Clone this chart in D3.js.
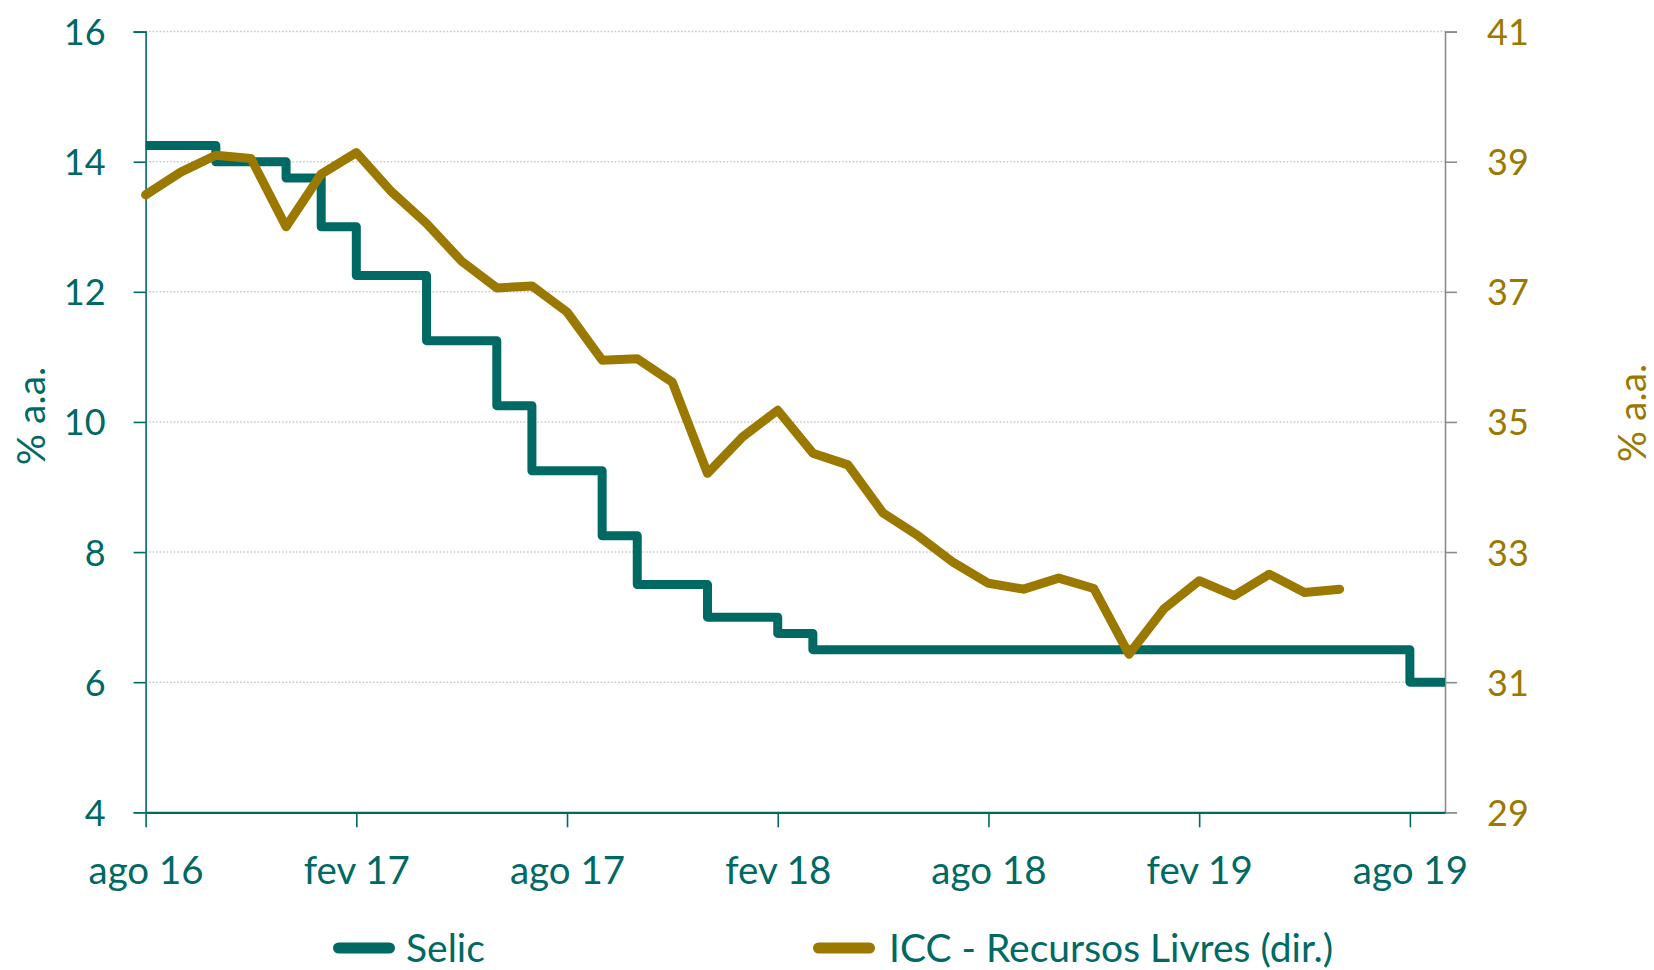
<!DOCTYPE html>
<html>
<head>
<meta charset="utf-8">
<script src="https://cdn.jsdelivr.net/npm/d3@7"></script>
<style>
  html, body { margin: 0; padding: 0; background: #fff; }
  svg { display: block; font-family: Lato, 'Open Sans', sans-serif; }
</style>
</head>
<body>
<div id="chart"></div>
<script>
// monthly, ago 16 .. set 19
const months = [
  'ago 16', 'set 16', 'out 16', 'nov 16', 'dez 16',
  'jan 17', 'fev 17', 'mar 17', 'abr 17', 'mai 17', 'jun 17', 'jul 17', 'ago 17', 'set 17', 'out 17', 'nov 17', 'dez 17',
  'jan 18', 'fev 18', 'mar 18', 'abr 18', 'mai 18', 'jun 18', 'jul 18', 'ago 18', 'set 18', 'out 18', 'nov 18', 'dez 18',
  'jan 19', 'fev 19', 'mar 19', 'abr 19', 'mai 19', 'jun 19', 'jul 19', 'ago 19', 'set 19'
]
const selic = [
  14.25, 14.25, 14.00, 14.00, 13.75,
  13.00, 12.25, 12.25, 11.25, 11.25, 10.25, 9.25, 9.25, 8.25, 7.50, 7.50, 7.00,
  7.00, 6.75, 6.50, 6.50, 6.50, 6.50, 6.50, 6.50, 6.50, 6.50, 6.50, 6.50,
  6.50, 6.50, 6.50, 6.50, 6.50, 6.50, 6.50, 6.00, 6.00
]
const icc = [
  38.49, 38.84, 39.10, 39.05, 38.00,
  38.81, 39.14, 38.54, 38.05, 37.47, 37.06, 37.09, 36.69, 35.95, 35.97, 35.61, 34.21,
  34.77, 35.18, 34.52, 34.34, 33.60, 33.25, 32.84, 32.52, 32.43, 32.60, 32.44, 31.43,
  32.13, 32.56, 32.33, 32.66, 32.38, 32.43
]
const xTickLabels = ['ago 16', 'fev 17', 'ago 17', 'fev 18', 'ago 18', 'fev 19', 'ago 19']
const leftTicks = [4, 6, 8, 10, 12, 14, 16]
const rightTicks = [29, 31, 33, 35, 37, 39, 41]
const legendItems = ['Selic', 'ICC - Recursos Livres (dir.)']

const W = 1654
const H = 970
const teal = '#006964'
const gold = '#9b7800'
const plotLeft = 145.6
const plotRight = 1445
const plotTop = 31.6
const plotBottom = 812.3

const svg = d3.select('#chart').append('svg')
  .attr('width', W)
  .attr('height', H)

const x = d3.scalePoint().domain(months).range([plotLeft, plotRight])
const yL = d3.scaleLinear().domain([4, 16]).range([plotBottom, plotTop])
const yR = d3.scaleLinear().domain([29, 41]).range([plotBottom, plotTop])

// grid
svg.append('g').selectAll('line')
  .data(leftTicks.filter(d => d > 4))
  .enter().append('line')
  .attr('x1', plotLeft)
  .attr('x2', plotRight)
  .attr('y1', d => yL(d))
  .attr('y2', d => yL(d))
  .attr('stroke', '#c8c8c8')
  .attr('stroke-width', 1.5)
  .attr('stroke-dasharray', '1.6,1.9')

// left axis
const gl = svg.append('g')
  .attr('transform', `translate(${plotLeft},0)`)
  .call(d3.axisLeft(yL).tickValues(leftTicks).tickSize(12).tickPadding(28).tickFormat(d3.format('d')))
gl.select('.domain').attr('stroke', teal).attr('stroke-width', 1.6)
gl.selectAll('.tick line').attr('stroke', teal).attr('stroke-width', 1.6)
gl.selectAll('.tick text')
  .attr('fill', teal)
  .attr('font-size', 36)
  .attr('font-family', 'Lato, sans-serif')
  .attr('dy', '0.36em')

// right axis
const gr = svg.append('g')
  .attr('transform', `translate(${plotRight},0)`)
  .call(d3.axisRight(yR).tickValues(rightTicks).tickSize(12).tickPadding(30).tickFormat(d3.format('d')))
gr.select('.domain').attr('stroke', '#8c8c8c').attr('stroke-width', 1.6)
gr.selectAll('.tick line').attr('stroke', '#8c8c8c').attr('stroke-width', 1.6)
gr.selectAll('.tick text')
  .attr('fill', gold)
  .attr('font-size', 36)
  .attr('font-family', 'Lato, sans-serif')
  .attr('dy', '0.36em')

// bottom axis
const gb = svg.append('g')
  .attr('transform', `translate(0,${plotBottom})`)
  .call(d3.axisBottom(x).tickValues(xTickLabels).tickSize(15).tickPadding(29).tickSizeOuter(0))
gb.select('.domain').attr('stroke', teal).attr('stroke-width', 2.2)
gb.selectAll('.tick line').attr('stroke', teal).attr('stroke-width', 1.6)
gb.selectAll('.tick text')
  .attr('fill', teal)
  .attr('font-size', 38.5)
  .attr('font-family', 'Lato, sans-serif')

// axis titles
svg.append('text')
  .attr('transform', `translate(45,416) rotate(-90)`)
  .attr('text-anchor', 'middle')
  .attr('fill', teal)
  .attr('font-size', 39)
  .text('% a.a.')

svg.append('text')
  .attr('transform', `translate(1646,413) rotate(-90)`)
  .attr('text-anchor', 'middle')
  .attr('fill', gold)
  .attr('font-size', 39)
  .text('% a.a.')

// series
const selicLine = d3.line()
  .x((d, i) => x(months[i]))
  .y(d => yL(d))
  .curve(d3.curveStepAfter)

svg.append('path')
  .datum(selic)
  .attr('d', selicLine)
  .attr('fill', 'none')
  .attr('stroke', teal)
  .attr('stroke-width', 9)
  .attr('stroke-linejoin', 'round')

const iccLine = d3.line()
  .x((d, i) => x(months[i]))
  .y(d => yR(d))

svg.append('path')
  .datum(icc)
  .attr('d', iccLine)
  .attr('fill', 'none')
  .attr('stroke', gold)
  .attr('stroke-width', 9)
  .attr('stroke-linejoin', 'round')
  .attr('stroke-linecap', 'round')

// legend
const legendX = [333, 813]
const legendColors = [teal, gold]
const lg = svg.append('g').selectAll('g')
  .data(legendItems)
  .enter().append('g')
  .attr('transform', (d, i) => `translate(${legendX[i]},948)`)

lg.append('line')
  .attr('x1', 5.5)
  .attr('x2', 56.5)
  .attr('stroke', (d, i) => legendColors[i])
  .attr('stroke-width', 11)
  .attr('stroke-linecap', 'round')

lg.append('text')
  .attr('x', (d, i) => i === 0 ? 73 : 76)
  .attr('y', 14)
  .attr('fill', teal)
  .attr('font-size', 39)
  .text(d => d)
</script>
</body>
</html>
